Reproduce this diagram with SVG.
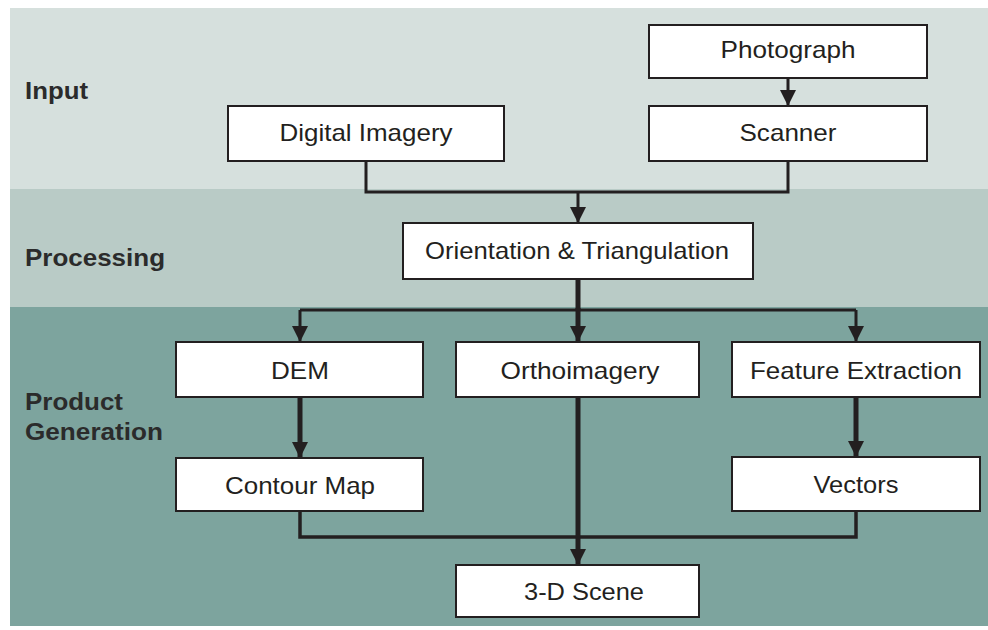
<svg xmlns="http://www.w3.org/2000/svg" width="988" height="630" viewBox="0 0 988 630">
  <style>
    .band-input { fill: #d6e0dd; }
    .band-proc { fill: #b9cbc6; }
    .band-prod { fill: #7da49e; }
    .box { fill: #ffffff; stroke: #231f20; stroke-width: 2; }
    .txt { font-family: "Liberation Sans", Arial, sans-serif; font-size: 24px; fill: #231f20; text-anchor: middle; }
    .lbl { font-family: "Liberation Sans", Arial, sans-serif; font-size: 24px; font-weight: bold; fill: #2b2b2b; }
    .thin { fill: none; stroke: #231f20; stroke-width: 3; }
    .thick { fill: none; stroke: #231f20; stroke-width: 5; }
  </style>
  <defs>
    <marker id="head" markerUnits="userSpaceOnUse" viewBox="0 0 16 16" markerWidth="16" markerHeight="16" refX="16" refY="8" orient="auto">
      <path d="M0,0 L16,8 L0,16 z" fill="#231f20"/>
    </marker>
  </defs>

  <rect width="988" height="630" fill="#ffffff"/>

  <!-- stage bands -->
  <g id="bands">
    <rect class="band-input" x="10" y="8" width="978" height="181"/>
    <rect class="band-proc" x="10" y="189" width="978" height="118"/>
    <rect class="band-prod" x="10" y="307" width="978" height="319"/>
    <text class="lbl" x="25" y="99" textLength="63" lengthAdjust="spacingAndGlyphs">Input</text>
    <text class="lbl" x="25" y="266" textLength="140" lengthAdjust="spacingAndGlyphs">Processing</text>
    <text class="lbl" x="25" y="410" textLength="98" lengthAdjust="spacingAndGlyphs">Product</text>
    <text class="lbl" x="25" y="440" textLength="138" lengthAdjust="spacingAndGlyphs">Generation</text>
  </g>

  <!-- connectors -->
  <g id="connectors">
    <path class="thin" d="M788,78 V106" marker-end="url(#head)"/>
    <path class="thin" d="M366,161 V192 H788 V161"/>
    <path class="thin" d="M578,192 V223" marker-end="url(#head)"/>
    <path class="thick" d="M578,279 V310"/>
    <path class="thin" d="M300,310 H856"/>
    <path class="thin" d="M300,310 V342" marker-end="url(#head)"/>
    <path class="thick" d="M578,308 V342" marker-end="url(#head)"/>
    <path class="thin" d="M856,310 V342" marker-end="url(#head)"/>
    <path class="thick" d="M300,397 V458" marker-end="url(#head)"/>
    <path class="thick" d="M856,397 V457" marker-end="url(#head)"/>
    <path class="thin" d="M300,511 V537 H856 V511" style="stroke-width:3.5"/>
    <path class="thick" d="M578,397 V565" marker-end="url(#head)"/>
  </g>

  <!-- nodes -->
  <g id="photograph">
    <rect class="box" x="649" y="25" width="278" height="53"/>
    <text class="txt" x="788" y="58" textLength="135" lengthAdjust="spacingAndGlyphs">Photograph</text>
  </g>
  <g id="digital-imagery">
    <rect class="box" x="228" y="106" width="276" height="55"/>
    <text class="txt" x="366" y="141" textLength="173" lengthAdjust="spacingAndGlyphs">Digital Imagery</text>
  </g>
  <g id="scanner">
    <rect class="box" x="649" y="106" width="278" height="55"/>
    <text class="txt" x="788" y="141" textLength="97" lengthAdjust="spacingAndGlyphs">Scanner</text>
  </g>
  <g id="orientation">
    <rect class="box" x="403" y="223" width="350" height="56"/>
    <text class="txt" x="577" y="259" textLength="304" lengthAdjust="spacingAndGlyphs">Orientation &amp; Triangulation</text>
  </g>
  <g id="dem">
    <rect class="box" x="176" y="342" width="247" height="55"/>
    <text class="txt" x="300" y="379" textLength="58" lengthAdjust="spacingAndGlyphs">DEM</text>
  </g>
  <g id="orthoimagery">
    <rect class="box" x="456" y="342" width="243" height="55"/>
    <text class="txt" x="580" y="379" textLength="159" lengthAdjust="spacingAndGlyphs">Orthoimagery</text>
  </g>
  <g id="feature-extraction">
    <rect class="box" x="732" y="342" width="248" height="55"/>
    <text class="txt" x="856" y="379" textLength="212" lengthAdjust="spacingAndGlyphs">Feature Extraction</text>
  </g>
  <g id="contour-map">
    <rect class="box" x="176" y="458" width="247" height="53"/>
    <text class="txt" x="300" y="494" textLength="150" lengthAdjust="spacingAndGlyphs">Contour Map</text>
  </g>
  <g id="vectors">
    <rect class="box" x="732" y="457" width="248" height="54"/>
    <text class="txt" x="856" y="493" textLength="85" lengthAdjust="spacingAndGlyphs">Vectors</text>
  </g>
  <g id="scene-3d">
    <rect class="box" x="456" y="565" width="243" height="52"/>
    <text class="txt" x="584" y="600" textLength="120" lengthAdjust="spacingAndGlyphs">3-D Scene</text>
  </g>
</svg>
